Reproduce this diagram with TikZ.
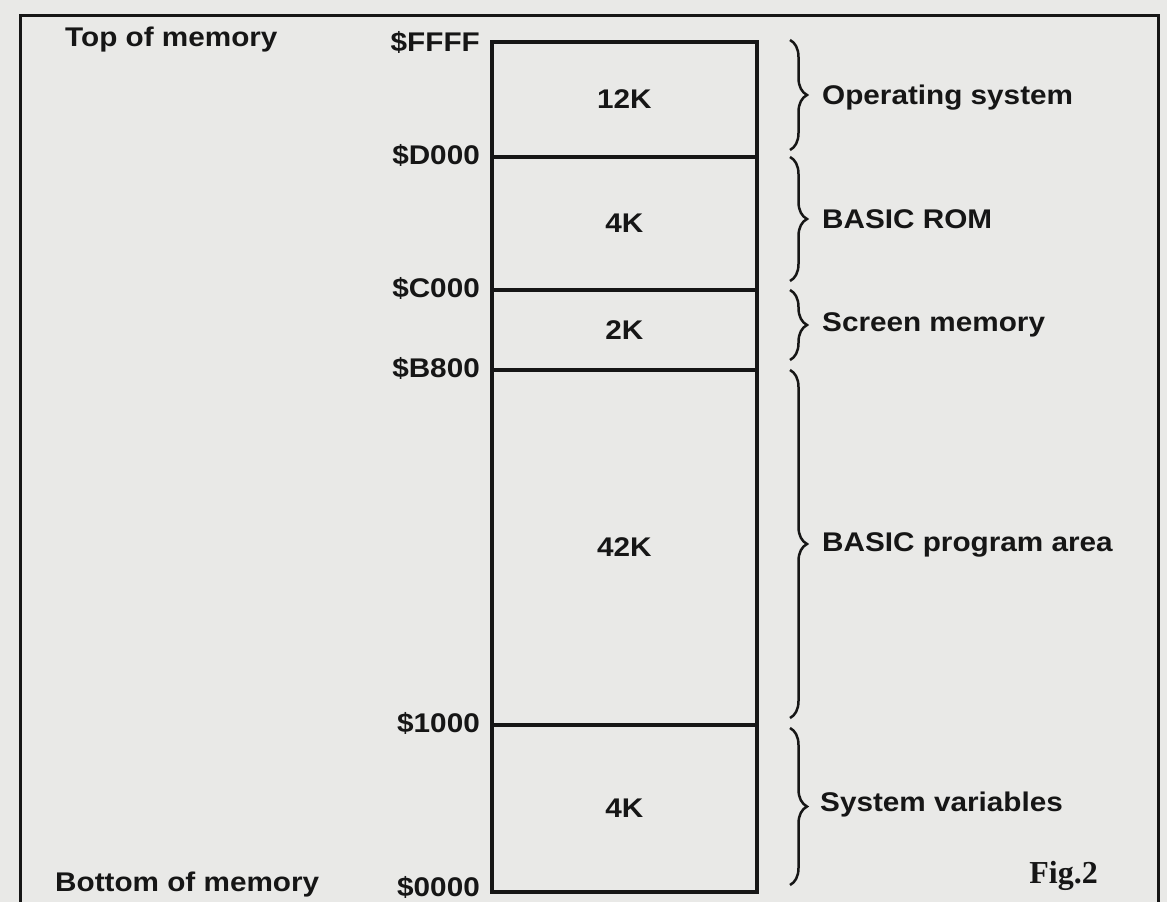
\documentclass[tikz,border=0pt]{standalone}
\usepackage{fontspec}
\setmainfont[FakeStretch=1.1]{Liberation Sans}
\newfontfamily\figfont{Liberation Serif}
\usetikzlibrary{decorations.pathreplacing}
\definecolor{paper}{HTML}{E9E9E7}
\definecolor{ink}{HTML}{161616}

\begin{document}
\begin{tikzpicture}[x=1pt, y=-1pt,
  region/.style={rectangle, draw=ink, line width=3.5pt, minimum width=265pt, anchor=north west, inner sep=0pt, text=ink, font=\fontsize{27}{30}\selectfont\bfseries},
  addr/.style={anchor=east, inner sep=0pt, text=ink, font=\fontsize{27}{30}\selectfont\bfseries},
  side/.style={anchor=west, inner sep=0pt, text=ink, font=\fontsize{27}{30}\selectfont\bfseries},
  membrace/.style={decorate, decoration={brace, amplitude=17pt}, draw=ink, line width=2.5pt}
]
  \clip (0,0) rectangle (1167,902);
  \fill[paper] (0,0) rectangle (1167,902);
  \draw[ink, line width=3pt] (20,15) rectangle (1158,930);
  % memory map
  \node[region, minimum height=115pt] (os) at (490,40) {12K};
  \node[region, minimum height=133pt] (rom) at (490,155) {4K};
  \node[region, minimum height=80pt] (scr) at (490,288) {2K};
  \node[region, minimum height=355pt] (prog) at (490,368) {42K};
  \node[region, minimum height=167pt] (sysv) at (490,723) {4K};
  % addresses
  \node[addr] (aFFFF) at (480,42) {\$FFFF};
  \node[addr] (aD000) at (480,155) {\$D000};
  \node[addr] (aC000) at (480,288) {\$C000};
  \node[addr] (aB800) at (480,368) {\$B800};
  \node[addr] (a1000) at (480,723) {\$1000};
  \node[addr] (a0000) at (480,887) {\$0000};
  \node[side] (top) at (65,40) {Top of memory};
  \node[side] (bot) at (55,885) {Bottom of memory};
  % braces
  \coordinate (b1) at (790,40);  \coordinate (b2) at (790,150);
  \coordinate (b3) at (790,157); \coordinate (b4) at (790,281);
  \coordinate (b5) at (790,290); \coordinate (b6) at (790,360);
  \coordinate (b7) at (790,370); \coordinate (b8) at (790,718);
  \coordinate (b9) at (790,728); \coordinate (b10) at (790,885);
  \draw[membrace] (b1) -- (b2);
  \draw[membrace] (b3) -- (b4);
  \draw[membrace] (b5) -- (b6);
  \draw[membrace] (b7) -- (b8);
  \draw[membrace] (b9) -- (b10);
  \node[side] (lOS) at (822,98) {Operating system};
  \node[side] (lROM) at (822,219) {BASIC ROM};
  \node[side] (lScr) at (822,325) {Screen memory};
  \node[side] (lProg) at (822,545) {BASIC program area};
  \node[side] (lSys) at (820,805) {System variables};
  \node[anchor=east, inner sep=0pt, text=ink, font=\figfont\fontsize{32}{34}\selectfont\bfseries] (fig) at (1098,876) {Fig.2};
\end{tikzpicture}
\end{document}
